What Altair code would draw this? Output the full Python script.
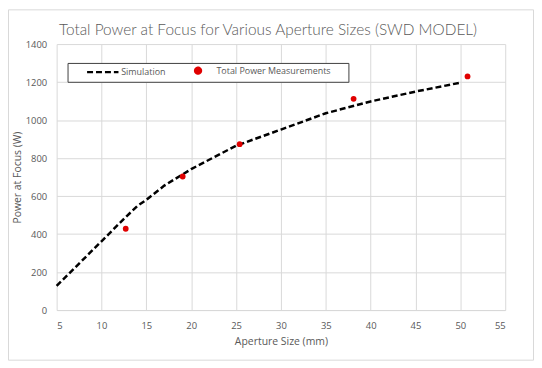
import altair as alt
import pandas as pd

# ---- data ----
sim_x = [5, 10, 12.5, 14, 15, 17, 20, 25, 30, 35, 40, 45, 50]
sim_y = [127, 362, 480, 548, 580, 655, 742, 865, 950, 1036, 1098, 1150, 1197]
meas_x = [12.7, 19.05, 25.4, 38.1, 50.8]
meas_y = [428, 703, 873, 1112, 1230]
series = ["Simulation", "Total Power Measurements"]
x_ticks = [5, 10, 15, 20, 25, 30, 35, 40, 45, 50, 55]
y_ticks = [0, 200, 400, 600, 800, 1000, 1200, 1400]

sim = pd.DataFrame({"x": sim_x, "y": sim_y, "series": series[0]})
meas = pd.DataFrame({"x": meas_x, "y": meas_y, "series": series[1]})

FONT = "Open Sans"
GREY = "#595959"

xs = alt.Scale(domain=[5, 55], nice=False, zero=False)
ys = alt.Scale(domain=[0, 1400], nice=False)

legend = alt.Legend(
    orient="none", legendX=11, legendY=19, direction="horizontal",
    title=".", titleOrient="right", titlePadding=12, titleColor="white", titleFontSize=9,
    strokeColor="#404040", fillColor="white", padding=3, symbolOffset=28,
    labelFontSize=9, labelColor=GREY, labelFont=FONT, columnPadding=-11, labelOffset=14,
    symbolStrokeWidth=2.5,
)
color = alt.Color("series:N", scale=alt.Scale(domain=series, range=["black", "#e00000"]), legend=legend)
X = alt.X("x:Q", scale=xs, axis=alt.Axis(values=x_ticks, title="Aperture Size (mm)"))
Y = alt.Y("y:Q", scale=ys, axis=alt.Axis(values=y_ticks, format="d", title="Power at Focus (W)"))

line = alt.Chart(sim).mark_line(strokeWidth=2.5).encode(
    x=X, y=Y, color=color,
    strokeDash=alt.StrokeDash("series:N", scale=alt.Scale(domain=series, range=[[6, 3], [1, 0]]), legend=legend),
)
pts = alt.Chart(meas).mark_point(filled=True, opacity=1).encode(
    x=X, y=Y, color=color,
    shape=alt.Shape("series:N", scale=alt.Scale(domain=series, range=["M-5,0H5", "circle"]), legend=legend),
    size=alt.Size("series:N", scale=alt.Scale(domain=series, range=[40, 34]), legend=legend),
)

border = alt.Chart(pd.DataFrame({"a": [0]})).mark_rect(fill=None, stroke="#d9d9d9", strokeWidth=1).encode(
    x=alt.value(-48.5), x2=alt.value(480.5), y=alt.value(-34.5), y2=alt.value(318.5)
)

chart = alt.layer(border, line, pts).properties(
    width=452, height=268,
    autosize=alt.AutoSizeParams(type="none"),
    padding={"left": 49, "top": 35, "right": 29, "bottom": 53},
    title=alt.TitleParams("Total Power at Focus for Various Aperture Sizes (SWD MODEL)",
                          fontSize=15.5, font="Lato", fontWeight=300, color=GREY, dx=-13, dy=37, offset=8),
).configure_view(stroke=None).configure_axis(
    grid=True, gridColor="#d9d9d9", domainColor="#d9d9d9", ticks=False,
    labelColor=GREY, labelFont=FONT, labelFontSize=9.5, labelPadding=10,
    titleColor=GREY, titleFont=FONT, titleFontSize=10.5, titleFontWeight="normal",
).configure_axisY(domain=False, titlePadding=3).configure_axisX(titlePadding=6, labelPadding=11)

chart.save("out.html", embed_options={"renderer": "svg", "actions": False})
